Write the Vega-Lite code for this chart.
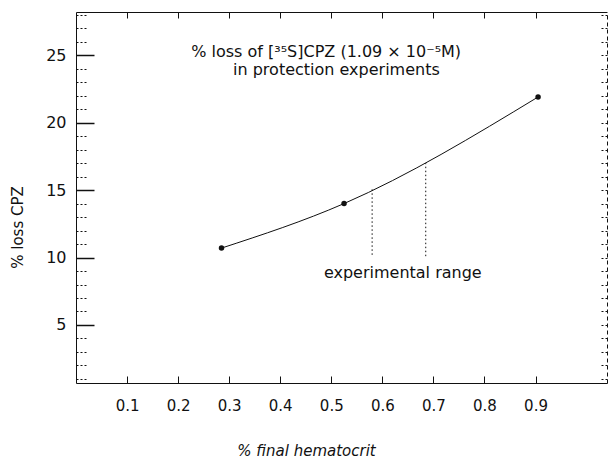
{
  "$schema": "https://vega.github.io/schema/vega-lite/v6.json",
  "width": 531,
  "height": 371,
  "autosize": {"type": "none"},
  "padding": {"left": 76, "top": 12, "right": 3, "bottom": 75},
  "background": "white",
  "config": {
    "view": {"stroke": null},
    "font": "DejaVu Sans",
    "axis": {
      "labelFont": "DejaVu Sans",
      "labelFontSize": 15,
      "labelColor": "#111",
      "domainColor": "#111",
      "tickColor": "#111",
      "titleColor": "#111",
      "titleFont": "DejaVu Sans",
      "titleFontSize": 15,
      "titleFontWeight": "normal",
      "grid": false
    }
  },
  "datasets": {
    "pts": [
      {"h": 0.285, "loss": 10.7},
      {"h": 0.525, "loss": 14.0},
      {"h": 0.905, "loss": 21.9}
    ],
    "range": [
      {"h": 0.58, "lo": 10.2, "hi": 15.1},
      {"h": 0.685, "lo": 10.1, "hi": 17.0}
    ],
    "notes": [
      {"h": 0.49, "loss": 25.2, "label": "% loss of [³⁵S]CPZ (1.09 × 10⁻⁵M)"},
      {"h": 0.51, "loss": 23.9, "label": "in protection experiments"},
      {"h": 0.64, "loss": 8.87, "label": "experimental range"}
    ]
  },
  "layer": [
    {
      "data": {"name": "pts"},
      "mark": {"type": "line", "interpolate": "monotone", "color": "#111", "strokeWidth": 1},
      "encoding": {
        "x": {
          "field": "h", "type": "quantitative",
          "scale": {"domain": [0, 1.04], "nice": false, "zero": false},
          "axis": {
            "orient": "bottom",
            "values": [0.1, 0.2, 0.3, 0.4, 0.5, 0.6, 0.7, 0.8, 0.9],
            "format": ".1f",
            "tickSize": -7,
            "labelPadding": 22,
            "title": "% final hematocrit",
            "titleFontStyle": "italic",
            "titleX": 230,
            "titleY": 67,
            "titleBaseline": "middle"
          }
        },
        "y": {
          "field": "loss", "type": "quantitative",
          "scale": {"domain": [0.7, 28.2], "nice": false, "zero": false},
          "axis": {
            "orient": "left",
            "values": [5, 10, 15, 20, 25],
            "tickSize": -18,
            "tickWidth": 1.5,
            "labelPadding": 28,
            "labelFontSize": 16,
            "title": "% loss CPZ",
            "titleX": -59,
            "titleY": 215,
            "titleBaseline": "middle"
          }
        }
      }
    },
    {
      "data": {"name": "pts"},
      "mark": {"type": "circle", "color": "#111", "opacity": 1, "size": 30},
      "encoding": {
        "x": {"field": "h", "type": "quantitative", "axis": null},
        "y": {"field": "loss", "type": "quantitative", "axis": null}
      }
    },
    {
      "data": {"name": "range"},
      "mark": {"type": "rule", "color": "#111", "strokeWidth": 1, "strokeDash": [1.5, 2.5]},
      "encoding": {
        "x": {
          "field": "h", "type": "quantitative",
          "axis": {
            "orient": "top",
            "values": [0.1, 0.2, 0.3, 0.4, 0.5, 0.6, 0.7, 0.8, 0.9],
            "labels": false,
            "tickSize": -6,
            "title": null
          }
        },
        "y": {
          "field": "lo", "type": "quantitative",
          "axis": {
            "orient": "left",
            "values": [1, 2, 3, 4, 6, 7, 8, 9, 11, 12, 13, 14, 16, 17, 18, 19, 21, 22, 23, 24, 26, 27, 28],
            "labels": false,
            "domain": false,
            "tickSize": -11,
            "tickDash": [2, 2],
            "title": null
          }
        },
        "y2": {"field": "hi"}
      }
    },
    {
      "data": {"name": "notes"},
      "mark": {"type": "text", "font": "DejaVu Sans", "fontSize": 16, "color": "#111", "align": "center", "baseline": "middle"},
      "encoding": {
        "x": {"field": "h", "type": "quantitative", "axis": null},
        "y": {
          "field": "loss", "type": "quantitative",
          "axis": {
            "orient": "right",
            "values": [1, 2, 3, 4, 5, 6, 7, 8, 9, 10, 11, 12, 13, 14, 15, 16, 17, 18, 19, 20, 21, 22, 23, 24, 25, 26, 27, 28],
            "labels": false,
            "tickSize": -8,
            "tickDash": [2, 2],
            "domainDash": [4, 3],
            "title": null
          }
        },
        "text": {"field": "label"}
      }
    }
  ],
  "resolve": {"axis": {"x": "independent", "y": "independent"}}
}
